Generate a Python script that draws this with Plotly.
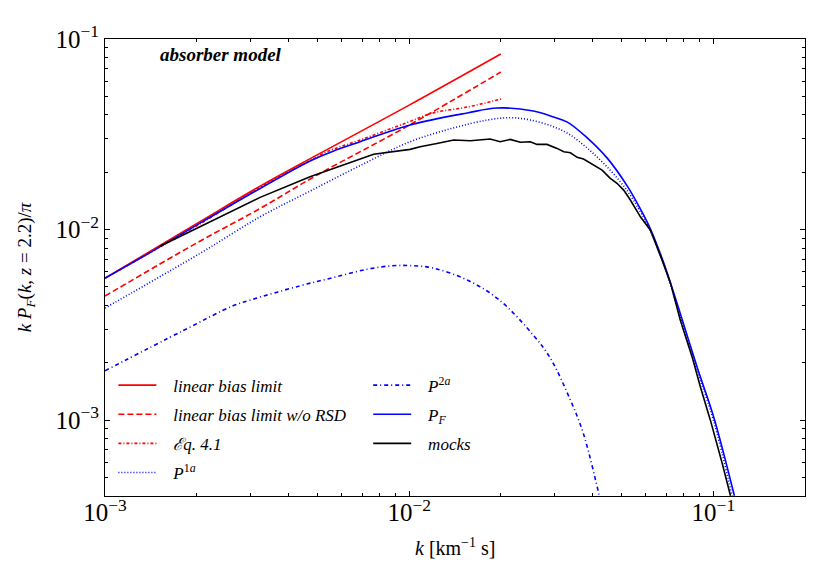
import plotly.graph_objects as go

# ---------------- data ----------------
k_lin = [0.001, 0.002, 0.003236, 0.005, 0.01, 0.02]
p_lin = [0.00556, 0.01074, 0.0169, 0.02472, 0.04498, 0.0834]

k_norsd = [0.001, 0.002, 0.003236, 0.005, 0.01, 0.02]
p_norsd = [0.00448, 0.00850, 0.01291, 0.01940, 0.0353, 0.0671]

k_eq41 = [0.001, 0.002053, 0.003236, 0.004721, 0.005358, 0.006902, 0.009817, 0.01199, 0.01552, 0.02005]
p_eq41 = [0.005559, 0.01072, 0.01667, 0.02300, 0.02559, 0.02951, 0.03639, 0.04093, 0.04395, 0.04842]

k_p1a = [0.001, 0.002053, 0.003236, 0.004721, 0.006902, 0.01007, 0.01396, 0.01807, 0.02148,
         0.02500, 0.02979, 0.03388, 0.03855, 0.04345, 0.04943, 0.05458, 0.06209, 0.06855,
         0.07780, 0.08851, 0.1, 0.1153]
p_p1a = [0.003873, 0.007499, 0.01167, 0.01592, 0.02168, 0.02891, 0.03412, 0.03758, 0.03864,
         0.03758, 0.03467, 0.03133, 0.02667, 0.02234, 0.01782, 0.01429, 0.009817, 0.006668,
         0.003475, 0.001807, 0.001, 0.000399]

k_p2a = [0.001, 0.001807, 0.002636, 0.003, 0.004375, 0.005623, 0.007278, 0.00879, 0.01007,
         0.01199, 0.01552, 0.01963, 0.02559, 0.02911, 0.03388, 0.03733, 0.04217, 0.04365]
p_p2a = [0.001816, 0.002951, 0.003981, 0.004266, 0.005070, 0.005598, 0.006194, 0.006457, 0.006471,
         0.006281, 0.005433, 0.004315, 0.002793, 0.002113, 0.001274, 0.0008551, 0.0004009, 0.000316]

k_pf = [0.001, 0.001406, 0.002053, 0.003236, 0.004721, 0.005623, 0.006902, 0.01007, 0.01552, 0.01945,
        0.02559, 0.02979, 0.03311, 0.03855, 0.04477, 0.05212, 0.05754, 0.06209, 0.06871,
        0.07780, 0.08831, 0.1002, 0.1172]
p_pf = [0.005559, 0.007568, 0.01081, 0.01644, 0.02291, 0.02580, 0.02891, 0.03540, 0.04093, 0.04345,
        0.04188, 0.03899, 0.03664, 0.03020, 0.02371, 0.01690, 0.01282, 0.01007, 0.006653,
        0.003631, 0.001905, 0.001040, 0.0004009]

k_mock = [0.001517, 0.002053, 0.003236, 0.004721, 0.007638, 0.01007, 0.01086, 0.01233, 0.01400,
          0.01589, 0.01845, 0.01991, 0.02148, 0.02317, 0.02500, 0.02630, 0.02838, 0.03062,
          0.03221, 0.03388, 0.03565, 0.03741, 0.04036, 0.04305, 0.04581, 0.04819, 0.05070,
          0.05333, 0.05754, 0.06209, 0.06776, 0.07228, 0.07780, 0.08511, 0.09057, 0.09772,
          0.1069, 0.1138]
p_mock = [0.008185, 0.01035, 0.01476, 0.01892, 0.02483, 0.02636, 0.02723, 0.02831, 0.02951,
          0.02924, 0.02985, 0.02891, 0.02972, 0.02871, 0.02891, 0.02799, 0.02799, 0.02667,
          0.02559, 0.02529, 0.02393, 0.02344, 0.02183, 0.02051, 0.01858, 0.01750, 0.01611,
          0.01429, 0.01167, 0.009931, 0.006918, 0.005236, 0.003350, 0.002148, 0.001496, 0.001,
          0.0005929, 0.0004009]

x_ticks = [1e-3, 1e-2, 1e-1]
x_ticktext = ["10<sup>−3</sup>", "10<sup>−2</sup>", "10<sup>−1</sup>"]
y_ticks = [1e-3, 1e-2, 1e-1]
y_ticktext = ["10<sup>−3</sup>", "10<sup>−2</sup>", "10<sup>−1</sup>"]
x_minor = [m * 10.0 ** e for e in (-3, -2) for m in range(2, 10)] + [0.2]
y_minor = [m * 10.0 ** e for e in (-4, -3, -2) for m in range(2, 10)]

# ---------------- figure ----------------
SERIF = "Liberation Serif, DejaVu Serif, serif"
RED = "#ff0000"
BLUE = "#0000ff"
SP = "\u00a0\u00a0\u2009"

fig = go.Figure()

def add(k, p, name, color, dash, legend, group, shape="spline", width=1.6):
    fig.add_trace(go.Scatter(
        x=k, y=p, mode="lines", name=SP + name,
        line=dict(color=color, dash=dash, width=width, shape=shape),
        legend=legend, legendgroup=group, hoverinfo="skip"))

add(k_lin, p_lin, "<i>linear bias limit</i>", RED, "solid", "legend", "a")
add(k_norsd, p_norsd, "<i>linear bias limit w/o RSD</i>", RED, "6px,3px", "legend", "b")
add(k_eq41, p_eq41, "<i>ℰq. 4.1</i>", RED, "3px,2px,1px,2px", "legend", "c")
add(k_p1a, p_p1a, "<i>P</i><sup>1<i>a</i></sup>", BLUE, "1px,2px", "legend", "d")
add(k_p2a, p_p2a, "<i>P</i><sup>2<i>a</i></sup>", BLUE, "4px,3px,1px,3px", "legend2", "e")
add(k_pf, p_pf, "<i>P</i><sub><i>F</i></sub>", BLUE, "solid", "legend2", "f")
add(k_mock, p_mock, "<i>mocks</i>", "black", "solid", "legend2", "g", shape="linear")

axis_common = dict(
    type="log", showline=True, linecolor="black", linewidth=1, mirror="allticks",
    ticks="inside", ticklen=5, tickwidth=1, tickcolor="black",
    showgrid=False, zeroline=False, tickmode="array",
    tickfont=dict(family=SERIF, size=25, color="black"),
)

fig.update_xaxes(
    range=[-3, -0.69897], tickvals=x_ticks, ticktext=x_ticktext,
    ticklabelstandoff=-6,
    minor=dict(ticks="inside", ticklen=3, tickwidth=1, tickcolor="black",
               tickmode="array", tickvals=x_minor, showgrid=False),
    **axis_common)
fig.update_yaxes(
    range=[-3.39794, -1], tickvals=y_ticks, ticktext=y_ticktext,
    automargin=False,
    title=dict(text="<i>k P</i><sub><i>F</i></sub>(<i>k</i>, <i>z</i> = 2.2)/<i>π</i>",
               font=dict(family=SERIF, size=19, color="black"), standoff=18),
    minor=dict(ticks="inside", ticklen=3, tickwidth=1, tickcolor="black",
               tickmode="array", tickvals=y_minor, showgrid=False),
    **axis_common)

legend_common = dict(
    bgcolor="rgba(0,0,0,0)", borderwidth=0, traceorder="grouped", tracegroupgap=4,
    font=dict(family=SERIF, size=17, color="black"), itemwidth=38,
    xanchor="left", yanchor="top", orientation="v",
)

# page body has an 8px margin, so the figure is 16px smaller than the window
fig.update_layout(
    width=815, height=565,
    margin=dict(l=97, r=18, t=31, b=77),
    paper_bgcolor="white", plot_bgcolor="white",
    showlegend=True,
    legend=dict(x=0.012, y=0.281, **legend_common),
    legend2=dict(x=0.376, y=0.281, **legend_common),
    annotations=[
        dict(text="<b><i>absorber model</i></b>", xref="paper", yref="paper",
             x=0.1664, y=0.967, xanchor="center", yanchor="middle", showarrow=False,
             font=dict(family=SERIF, size=19, color="black")),
        dict(text="<i>k</i> [km<sup>−1</sup> s]", xref="paper", yref="paper",
             x=0.5, y=-0.112, xanchor="center", yanchor="middle", showarrow=False,
             font=dict(family=SERIF, size=20, color="black")),
    ],
)

fig.write_html("out.html")
